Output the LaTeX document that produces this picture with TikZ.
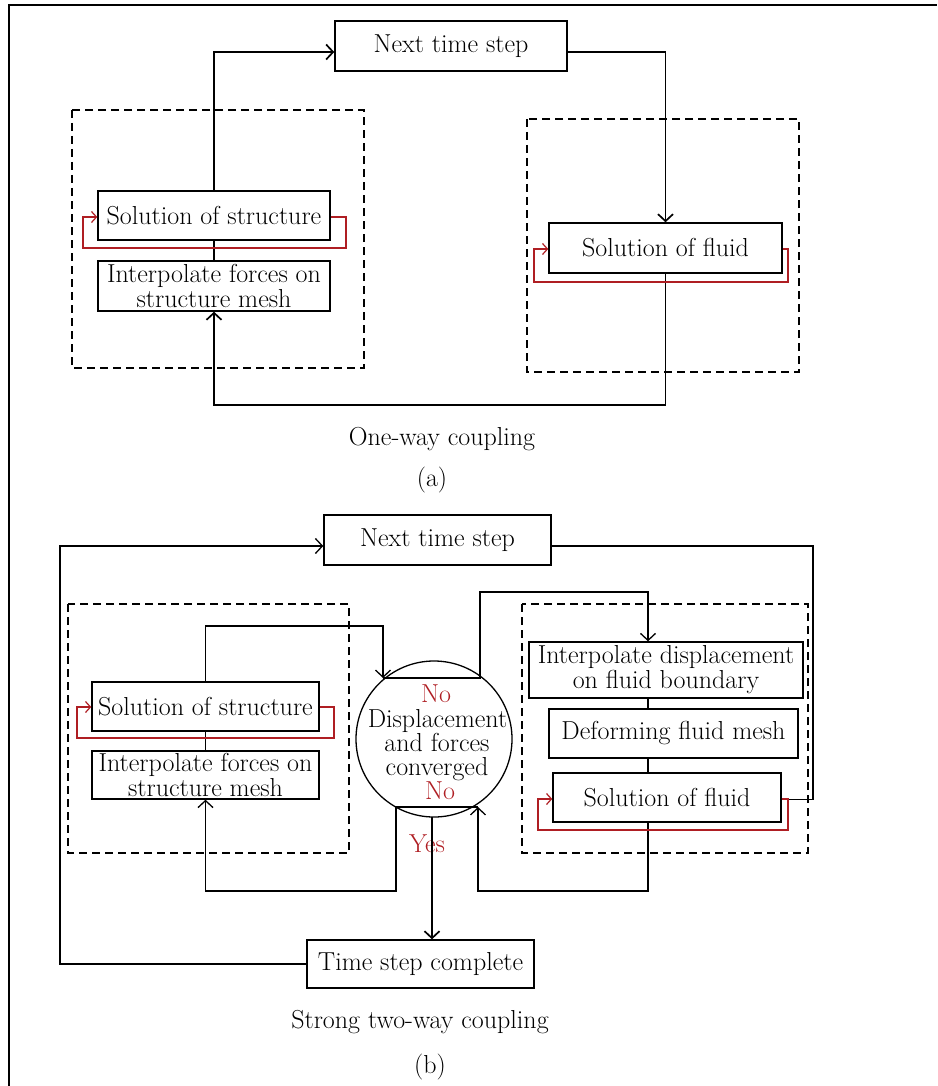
\documentclass[tikz,border=0pt]{standalone}
\usepackage{fontspec}
\usetikzlibrary{arrows.meta,calc}
\definecolor{myred}{RGB}{175,30,35}
\begin{document}
\begin{tikzpicture}[x=1pt,y=-1pt,
  box/.style={draw, line width=1.4pt, inner sep=0pt, align=center, font=\fontsize{26}{25}\selectfont},
  lbl/.style={inner sep=0pt, anchor=base, font=\fontsize{26}{25}\selectfont},
  conna/.style={line width=1.7pt},
  connb/.style={line width=1.3pt},
  tip/.style={-{Straight Barb[length=7pt,width=15pt]}},
  redloop/.style={draw=myred, line width=1.2pt, -{Straight Barb[length=5pt,width=11pt]}},
  dbox/.style={dash pattern=on 8pt off 5pt, line width=1.5pt}]
\useasboundingbox (0,0) rectangle (937,1086);
\draw[line width=2.2pt] (9,1086) -- (9,5) -- (937,5);

% ---------- (a) ----------
\draw[dbox] (72,110) rectangle (364,368);
\draw[dbox] (527,119) rectangle (799,372);
\node[box, minimum width=232pt, minimum height=50pt] (nt1) at (451,46) {Next time step};
\node[box, minimum width=232pt, minimum height=49pt] (ss1) at (214,215.5) {Solution of structure};
\node[box, minimum width=232pt, minimum height=50pt] (if1) at (214,286) {Interpolate forces on\\structure mesh};
\node[box, minimum width=233pt, minimum height=50pt] (sf1) at (665.5,248) {Solution of fluid};
\coordinate (ba) at (214,405);
\draw[conna, tip] (ss1.north) |- ($(nt1.west)+(0,6)$);
\draw[conna, tip] ($(nt1.east)+(0,6)$) -| (sf1.north);
\draw[conna] (ss1.south) -- (if1.north);
\draw[conna, tip] (sf1.south) |- (ba) -- (if1.south);
\draw[redloop] ($(ss1.east)+(0,1.5)$) -| (346,248) -| (83,217) -- ($(ss1.west)+(0,1.5)$);
\draw[redloop] ($(sf1.east)+(0,1)$) -| (788,282) -| (534,249) -- ($(sf1.west)+(0,1)$);
\node[lbl] (capa) at (442,445) {One-way coupling};
\node[lbl] (laba) at (432,486) {(a)};

% ---------- (b) ----------
\draw[dbox] (68,604) rectangle (349,853);
\draw[dbox] (522,604) rectangle (808,853);
\node[box, minimum width=227pt, minimum height=50pt] (nt2) at (437.5,540) {Next time step};
\node[box, minimum width=227pt, minimum height=49pt] (ss2) at (205.5,706.5) {Solution of structure};
\node[box, minimum width=227pt, minimum height=48pt] (if2) at (205.5,775) {Interpolate forces on\\structure mesh};
\node[draw, circle, line width=1.3pt, minimum size=156pt, inner sep=0pt] (cv) at (434,739) {};
\node[box, minimum width=274pt, minimum height=56pt] (id2) at (666,670) {Interpolate displacement\\on fluid boundary};
\node[box, minimum width=249pt, minimum height=49pt] (df2) at (673.5,733.5) {Deforming fluid mesh};
\node[box, minimum width=228pt, minimum height=49pt] (sf2) at (667,797.5) {Solution of fluid};
\node[box, minimum width=227pt, minimum height=48pt] (tc2) at (420.5,964) {Time step complete};

\node[lbl, text=myred] (no1) at (436,702) {No};
\node[lbl] (d1) at (437.5,727) {Displacement};
\node[lbl] (d2) at (437,751) {and forces};
\node[lbl] (d3) at (437,775) {converged};
\node[lbl, text=myred] (no2) at (440,799) {No};
\node[lbl, text=myred] (yes) at (427,852) {Yes};

\coordinate (vx) at (648,0);
\coordinate (ct1) at (383,678);
\coordinate (ct2) at (480,678);
\coordinate (cb1) at (396,807);
\coordinate (cb2) at (478,807);
\coordinate (cbm) at (432,817);

\draw[connb, tip] (tc2.west) -| (60,546) -- ($(nt2.west)+(0,6)$);
\draw[connb] ($(sf2.east)+(0,2)$) -| (813,546) -- ($(nt2.east)+(0,6)$);
\draw[connb, tip] (ss2.north) |- (383,626) -- (ct1);
\draw[connb, tip] (ct1) -- (ct2) |- (648,592) -- (id2.north -| vx);
\draw[connb] (id2.south -| vx) -- (df2.north -| vx);
\draw[connb] (df2.south -| vx) -- (sf2.north -| vx);
\draw[connb, tip] (sf2.south -| vx) |- (478,891) -- (cb2);
\draw[connb] (cb1) -- (cb2);
\draw[connb, tip] (cb1) |- (205.5,891) -- (if2.south);
\draw[line width=1.7pt, tip] (cbm) -- (tc2.north -| cbm);
\draw[connb] (ss2.south) -- (if2.north);
\draw[redloop] ($(ss2.east)+(0,0.5)$) -| (334,738) -| (77,707) -- ($(ss2.west)+(0,0.5)$);
\draw[redloop] ($(sf2.east)+(0,1.5)$) -| (788,830) -| (538,799) -- ($(sf2.west)+(0,1.5)$);

\node[lbl] (capb) at (420,1028) {Strong two-way coupling};
\node[lbl] (labb) at (430,1073) {(b)};
\end{tikzpicture}
\end{document}
